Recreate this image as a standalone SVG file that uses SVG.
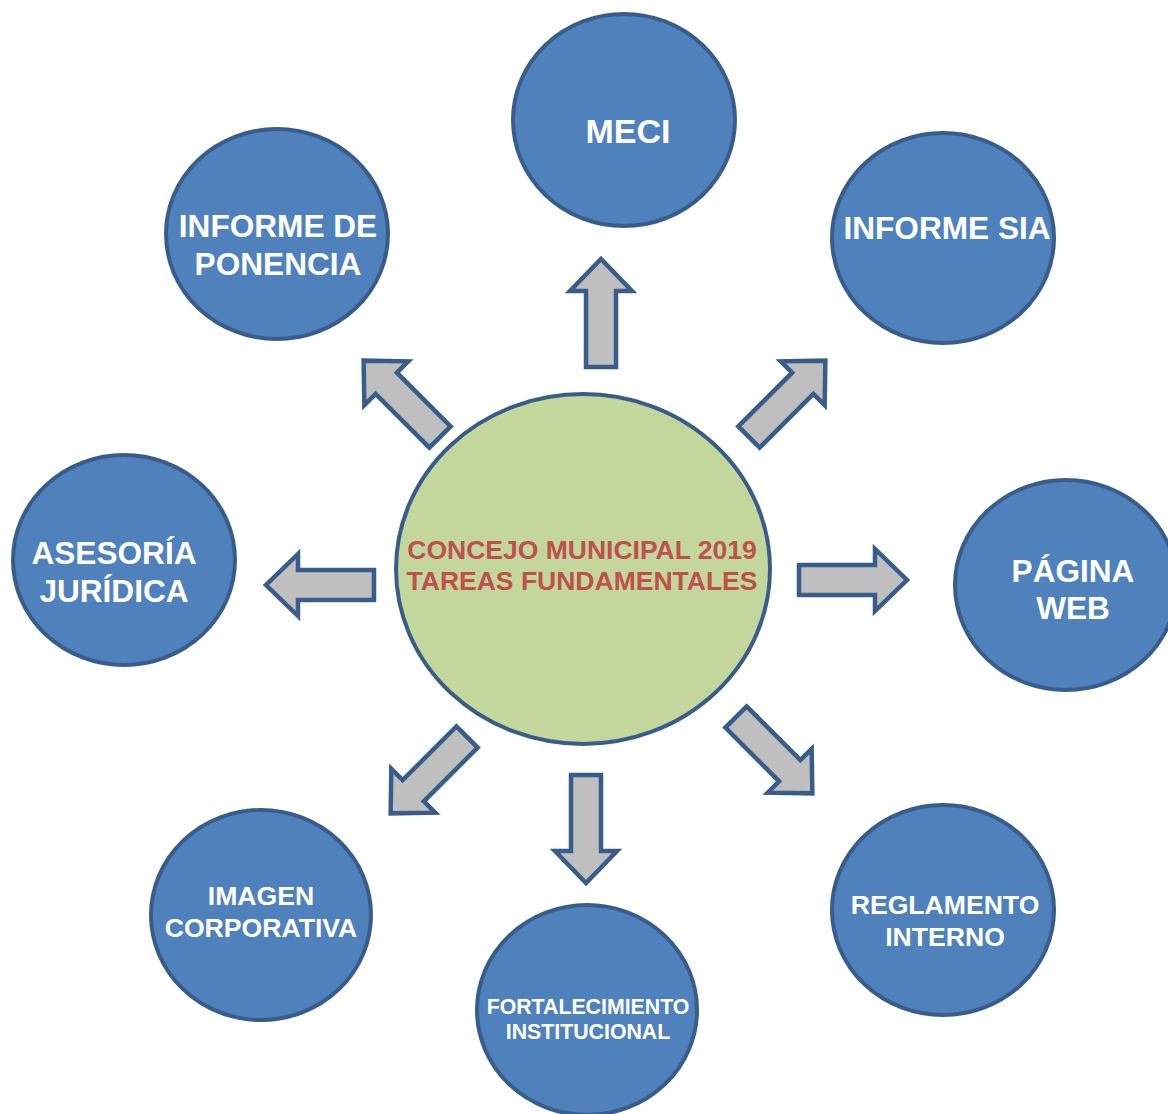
<svg xmlns="http://www.w3.org/2000/svg" width="1168" height="1114" viewBox="0 0 1168 1114">
<style>
.n{fill:#4F81BD;stroke:#385D8A;stroke-width:4}
.c{fill:#C3D69B;stroke:#385D8A;stroke-width:4}
.a{fill:#BFBFBF;stroke:#385D8A;stroke-width:4.5;stroke-linejoin:miter}
.t{font-family:"Liberation Sans",Arial,sans-serif;font-weight:bold;fill:#FFFFFF;text-anchor:middle}
.ct{font-family:"Liberation Sans",Arial,sans-serif;font-weight:bold;fill:#C0504D;text-anchor:middle;font-size:26.5px}
</style>
<defs>
<polygon id="arr" points="0,-15 76,-15 76,-31 108,0 76,31 76,15 0,15"/>
</defs>
<rect width="1168" height="1114" fill="#FFFFFF"/>
<g id="connectors">
<use href="#arr" class="a" transform="translate(601,367) rotate(-90)"/>
<use href="#arr" class="a" transform="translate(749,437) rotate(-45)"/>
<use href="#arr" class="a" transform="translate(440,437) rotate(-135)"/>
<use href="#arr" class="a" transform="translate(374,585) rotate(180)"/>
<use href="#arr" class="a" transform="translate(799,580)"/>
<use href="#arr" class="a" transform="translate(467,737) rotate(135)"/>
<use href="#arr" class="a" transform="translate(586,775) rotate(90)"/>
<use href="#arr" class="a" transform="translate(736,717) rotate(45)"/>
</g>
<g id="center">
<ellipse class="c" cx="583" cy="569" rx="187" ry="175"/>
<text class="ct" x="582" y="559">CONCEJO MUNICIPAL 2019</text>
<text class="ct" x="582" y="590">TAREAS FUNDAMENTALES</text>
</g>
<g id="meci">
<ellipse class="n" cx="624" cy="120" rx="111" ry="106"/>
<text class="t" x="628" y="143" font-size="34">MECI</text>
</g>
<g id="ponencia">
<ellipse class="n" cx="277" cy="234" rx="111" ry="105"/>
<text class="t" x="278" y="237" font-size="31.6">INFORME DE</text>
<text class="t" x="278" y="275" font-size="31.6">PONENCIA</text>
</g>
<g id="sia">
<ellipse class="n" cx="943" cy="238" rx="111" ry="105"/>
<text class="t" x="947" y="239" font-size="31.6">INFORME SIA</text>
</g>
<g id="asesoria">
<ellipse class="n" cx="124" cy="560" rx="111" ry="105"/>
<text class="t" x="114" y="564" font-size="31.6">ASESORÍA</text>
<text class="t" x="114" y="602" font-size="31.6">JURÍDICA</text>
</g>
<g id="pagina">
<ellipse class="n" cx="1066" cy="585" rx="111" ry="105"/>
<text class="t" x="1073" y="582" font-size="31.6">PÁGINA</text>
<text class="t" x="1073" y="619" font-size="31.6">WEB</text>
</g>
<g id="imagen">
<ellipse class="n" cx="261" cy="915" rx="110" ry="105"/>
<text class="t" x="261" y="905" font-size="26.6">IMAGEN</text>
<text class="t" x="261" y="937" font-size="26.6">CORPORATIVA</text>
</g>
<g id="fortalecimiento">
<ellipse class="n" cx="587" cy="1010" rx="110" ry="105"/>
<text class="t" x="588" y="1014" font-size="21.3">FORTALECIMIENTO</text>
<text class="t" x="588" y="1039" font-size="21.3">INSTITUCIONAL</text>
</g>
<g id="reglamento">
<ellipse class="n" cx="943" cy="910" rx="111" ry="105"/>
<text class="t" x="945" y="914" font-size="26.6">REGLAMENTO</text>
<text class="t" x="945" y="946" font-size="26.6">INTERNO</text>
</g>
</svg>
